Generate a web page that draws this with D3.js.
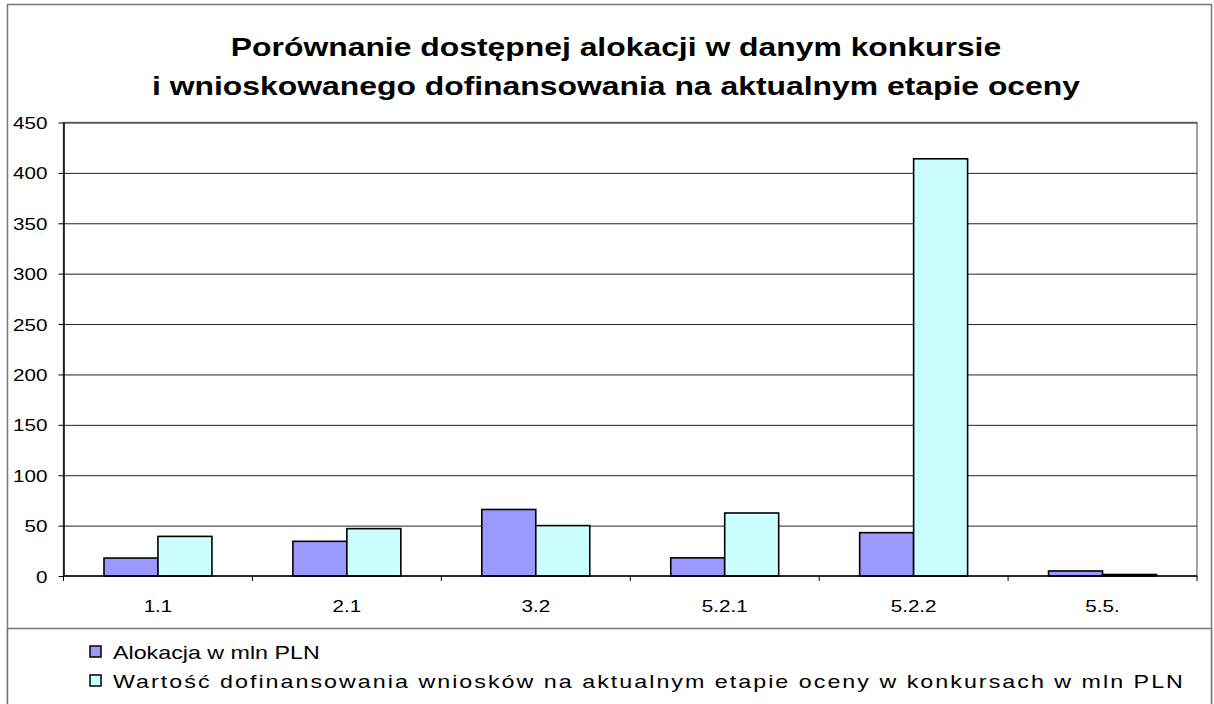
<!DOCTYPE html>
<html>
<head>
<meta charset="utf-8">
<script src="https://cdn.jsdelivr.net/npm/d3@7/dist/d3.min.js"></script>
<style>
  body { margin: 0; background: #fff; }
  svg { display: block; font-family: "Liberation Sans", Arial, sans-serif; }
</style>
</head>
<body>
<div id="chart"></div>
<script>
// data
const categories = ['1.1', '2.1', '3.2', '5.2.1', '5.2.2', '5.5.'];
const alokacja = [17.8, 34.4, 66, 18, 43, 5];
const wartosc = [39.3, 47, 50, 62.5, 414, 1.5];
const yTicks = [0, 50, 100, 150, 200, 250, 300, 350, 400, 450];
const seriesNames = ['Alokacja w mln PLN', 'Wartość dofinansowania wniosków na aktualnym etapie oceny w konkursach w mln PLN'];
const seriesColors = ['#9999ff', '#ccffff'];
const titleLines = ['Porównanie dostępnej alokacji w danym konkursie', 'i wnioskowanego dofinansowania na aktualnym etapie oceny'];

const W = 1214, H = 704;
const sx = 1.25; // the source picture is stretched sideways
const margin = {top: 122.5, right: 17, bottom: 128, left: 63.5};
const width = W - margin.left - margin.right;
const height = H - margin.top - margin.bottom;

const svg = d3.select('#chart').append('svg')
  .attr('width', W)
  .attr('height', H);

// outer frame
svg.append('rect')
  .attr('x', 7.5).attr('y', 4.5)
  .attr('width', 1204).attr('height', 710)
  .attr('fill', '#fff').attr('stroke', '#777').attr('stroke-width', 1.5);

// title
svg.append('g').selectAll('text').data(titleLines)
  .enter().append('text')
  .attr('transform', (d, i) => 'translate(616,' + (56 + i * 39) + ') scale(' + sx + ',1)')
  .attr('text-anchor', 'middle')
  .attr('font-weight', 'bold')
  .attr('font-size', 25.5)
  .text(d => d);

const g = svg.append('g')
  .attr('transform', 'translate(' + margin.left + ',' + margin.top + ')');

const x0 = d3.scaleBand()
  .domain(categories)
  .range([0, width]);

const x1 = d3.scaleBand()
  .domain([0, 1])
  .range([0, x0.bandwidth()])
  .paddingInner(0)
  .paddingOuter(0.75); // excel gap width 150%

const y = d3.scaleLinear()
  .domain([0, 450])
  .range([height, 0]);

// plot area border
g.append('rect')
  .attr('width', width).attr('height', height)
  .attr('fill', 'none').attr('stroke', '#888').attr('stroke-width', 1.5);

// gridlines
g.append('g').attr('class', 'grid')
  .call(d3.axisLeft(y).tickValues(yTicks.slice(1)).tickSize(-width).tickFormat(''))
  .call(a => a.select('.domain').remove())
  .call(a => a.selectAll('line').attr('stroke', '#222').attr('stroke-width', 1));

// bars
const groups = g.selectAll('.cat').data(categories)
  .enter().append('g')
  .attr('class', 'cat')
  .attr('transform', d => 'translate(' + x0(d) + ',0)');

groups.selectAll('rect')
  .data((d, i) => [alokacja[i], wartosc[i]])
  .enter().append('rect')
  .attr('x', (d, j) => x1(j))
  .attr('y', d => y(d))
  .attr('width', x1.bandwidth())
  .attr('height', d => height - y(d))
  .attr('fill', (d, j) => seriesColors[j])
  .attr('stroke', '#000')
  .attr('stroke-width', 1.6);

// y axis
const yAxis = g.append('g')
  .call(d3.axisLeft(y).tickValues(yTicks).tickSize(5).tickSizeOuter(0).tickPadding(0))
  .call(a => a.select('.domain').attr('stroke', '#000').attr('stroke-width', 1.5));
yAxis.selectAll('line').attr('stroke', '#000');
yAxis.selectAll('text')
  .attr('x', null)
  .attr('dy', null)
  .attr('font-size', 16.5)
  .attr('fill', '#000')
  .attr('text-anchor', 'end')
  .attr('transform', 'translate(-16,6) scale(' + sx + ',1)');

// x axis line, boundary ticks and labels
g.append('line')
  .attr('x1', 0).attr('x2', width)
  .attr('y1', y(0)).attr('y2', y(0))
  .attr('stroke', '#000').attr('stroke-width', 1.5);

g.append('g').selectAll('line')
  .data(categories.concat(['end']))
  .enter().append('line')
  .attr('x1', (d, i) => i < categories.length ? x0(d) : width)
  .attr('x2', (d, i) => i < categories.length ? x0(d) : width)
  .attr('y1', y(0)).attr('y2', y(0) + 5)
  .attr('stroke', '#000');

g.append('g').selectAll('text').data(categories)
  .enter().append('text')
  .attr('transform', d => 'translate(' + (x0(d) + x0.bandwidth() / 2) + ',' + (y(0) + 36) + ') scale(' + sx + ',1)')
  .attr('text-anchor', 'middle')
  .attr('font-size', 16.5)
  .text(d => d);

// legend box
svg.append('rect')
  .attr('x', 7.5).attr('y', 628.5)
  .attr('width', 1204).attr('height', 90)
  .attr('fill', '#fff').attr('stroke', '#777').attr('stroke-width', 1.5);

const legend = svg.append('g').selectAll('g').data(seriesNames)
  .enter().append('g')
  .attr('transform', (d, i) => 'translate(90,' + (646 + i * 29) + ')');

legend.append('rect')
  .attr('width', 11).attr('height', 11)
  .attr('fill', (d, i) => seriesColors[i])
  .attr('stroke', '#000').attr('stroke-width', 1.5);

// the long entry is spaced out in the source
legend.append('text')
  .attr('transform', 'translate(23,13) scale(' + sx + ',1)')
  .attr('font-size', 18.6)
  .attr('letter-spacing', (d, i) => i ? 1.62 : 0)
  .text(d => d);
</script>
</body>
</html>
